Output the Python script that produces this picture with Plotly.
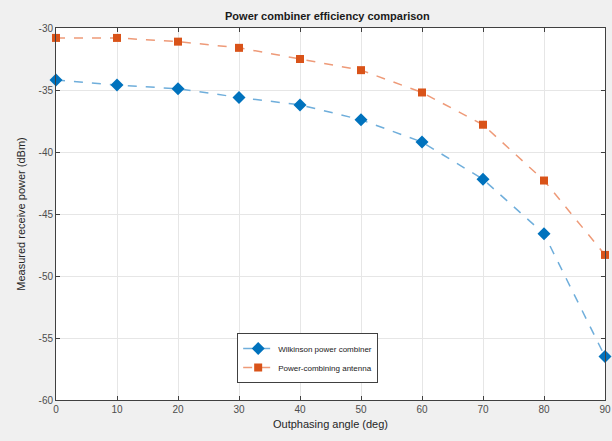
import plotly.graph_objects as go

angles = [0, 10, 20, 30, 40, 50, 60, 70, 80, 90]
wilkinson = [-34.2, -34.6, -34.9, -35.6, -36.2, -37.4, -39.2, -42.2, -46.6, -56.5]
antenna = [-30.8, -30.8, -31.1, -31.6, -32.5, -33.4, -35.2, -37.8, -42.3, -48.3]

x_ticks = [0, 10, 20, 30, 40, 50, 60, 70, 80, 90]
y_ticks = [-60, -55, -50, -45, -40, -35, -30]
y_tick_text = ["-60", "-55", "-50", "-45", "-40", "-35", "-30"]

fig = go.Figure()
fig.add_trace(go.Scatter(
    x=angles, y=wilkinson, mode="lines+markers", name="Wilkinson power combiner",
    line=dict(color="#6FAEDB", dash="dash", width=1.5),
    marker=dict(symbol="diamond", size=10, color="#0072BD"),
    cliponaxis=False,
))
fig.add_trace(go.Scatter(
    x=angles, y=antenna, mode="lines+markers", name="Power-combining antenna",
    line=dict(color="#EE9A78", dash="dash", width=1.5),
    marker=dict(symbol="square", size=8, color="#D95319"),
    cliponaxis=False,
))

axis_common = dict(
    showgrid=True, gridcolor="#E6E6E6", gridwidth=1,
    showline=True, linecolor="#404040", linewidth=1, mirror="ticks",
    ticks="inside", ticklen=4, tickcolor="#404040",
    tickfont=dict(family="Liberation Sans, Arial", size=10, color="#4D4D4D"),
    zeroline=False, automargin=False,
)

fig.update_layout(
    width=612, height=441,
    paper_bgcolor="#F0F0F0", plot_bgcolor="#FFFFFF",
    margin=dict(l=56, r=7, t=28, b=41),
    title=dict(text="<b>Power combiner efficiency comparison</b>",
               x=0.535, xanchor="center", y=0.963, yanchor="middle",
               font=dict(family="Liberation Sans, Arial", size=11, color="#1A1A1A")),
    xaxis=dict(range=[0, 90], tickvals=x_ticks,
               title=dict(text="Outphasing angle (deg)", standoff=6,
                          font=dict(family="Liberation Sans, Arial", size=11, color="#262626")),
               **axis_common),
    yaxis=dict(range=[-60, -30], tickvals=y_ticks, ticktext=y_tick_text,
               title=dict(text="Measured receive power (dBm)", standoff=10,
                          font=dict(family="Liberation Sans, Arial", size=11, color="#262626")),
               **axis_common),
    legend=dict(x=0.33, y=0.18, xanchor="left", yanchor="top",
                bgcolor="#FFFFFF", bordercolor="#404040", borderwidth=1,
                font=dict(family="Liberation Sans, Arial", size=8, color="#1A1A1A"),
                tracegroupgap=0, itemwidth=30),
    showlegend=True,
)

fig.write_html("out.html", post_script="document.body.style.margin='0';",
               config={"displayModeBar": False})
